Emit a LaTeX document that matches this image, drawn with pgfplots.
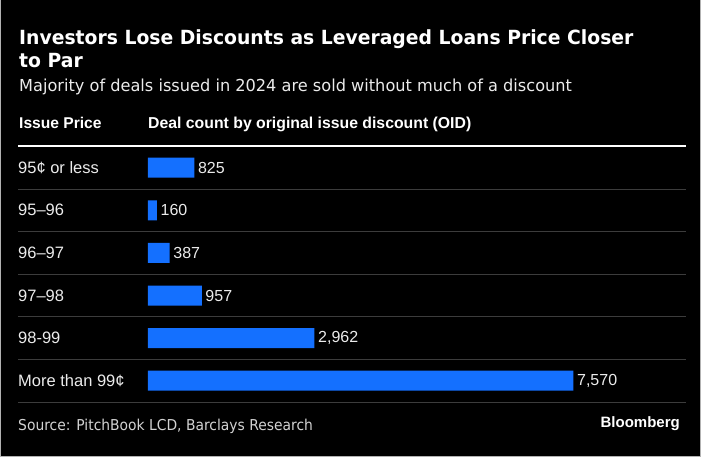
\documentclass[border=0pt]{standalone}
\usepackage{fontspec}
\usepackage{pgfplots}
\pgfplotsset{compat=1.18}
\setmainfont{Liberation Sans}
\newfontfamily\titlefont[FakeStretch=0.963]{DejaVu Sans}
\newfontfamily\subfont[FakeStretch=0.98]{DejaVu Sans}
\newfontfamily\srcfont[FakeStretch=0.925]{DejaVu Sans}
\definecolor{barblue}{RGB}{20,112,255}
\definecolor{sepgray}{RGB}{60,60,60}
\definecolor{srcgray}{RGB}{210,210,210}
\begin{document}
\begin{tikzpicture}
\useasboundingbox (0pt,0pt) rectangle (704pt,-460pt);
\fill[white] (0pt,0pt) rectangle (704pt,-460pt);
\fill[black] (0pt,0pt) rectangle (701pt,-457pt);
\draw[gray!60, line width=1pt] (0.5pt,0pt) -- (0.5pt,-456.5pt) -- (700.5pt,-456.5pt) -- (700.5pt,0pt);

\node[anchor=base west, inner sep=0pt, text=white, font=\titlefont\bfseries\fontsize{19.5}{23}\selectfont] at (19pt,-45pt) {Investors Lose Discounts as Leveraged Loans Price Closer};
\node[anchor=base west, inner sep=0pt, text=white, font=\titlefont\bfseries\fontsize{19.5}{23}\selectfont] at (19pt,-67.5pt) {to Par};
\node[anchor=base west, inner sep=0pt, text=white!92!black, font=\subfont\fontsize{16.5}{20}\selectfont] at (19pt,-91.7pt) {Majority of deals issued in 2024 are sold without much of a discount};

\node[anchor=base west, inner sep=0pt, text=white, font=\bfseries\fontsize{15.6}{18}\selectfont] at (19pt,-128.3pt) {Issue Price};
\node[anchor=base west, inner sep=0pt, text=white, font=\bfseries\fontsize{15.8}{18}\selectfont] at (148pt,-128.3pt) {Deal count by original issue discount (OID)};

\node[anchor=base west, inner sep=0pt, text=srcgray, font=\srcfont\fontsize{15}{18}\selectfont] at (18pt,-430pt) {Source: PitchBook LCD, Barclays Research};
\node[anchor=base east, inner sep=0pt, text=white, font=\bfseries\fontsize{15}{18}\selectfont] at (680pt,-427pt) {Bloomberg};

\begin{axis}[
  at={(18pt,-146.4pt)}, anchor=north west,
  scale only axis, width=668pt, height=255.6pt,
  xmin=-2313, xmax=9573, ymin=-0.5, ymax=5.5, y dir=reverse,
  clip=false,
  xbar, bar width=20pt,
  axis line style={draw=none},
  xtick=\empty,
  ytick={0,1,2,3,4,5},
  yticklabels={95¢ or less,95–96,96–97,97–98,98-99,More than 99¢},
  major tick length=0pt, minor tick length=0pt,
  yticklabel style={anchor=west, inner sep=0pt, text=white!92!black, font=\fontsize{16.5}{19}\selectfont},
  minor ytick={0.5,1.5,2.5,3.5,4.5,5.5},
  yminorgrids=true,
  minor grid style={draw=sepgray, line width=1pt},
  extra y ticks={-0.5},
  extra y tick labels={},
  extra y tick style={grid=major, major grid style={draw=white, line width=2pt}},
  /pgf/number format/assume math mode=true,
  /pgf/number format/.cd, fixed, precision=0, 1000 sep={,},
  /pgfplots/.cd,
  nodes near coords,
  nodes near coords style={anchor=west, inner sep=0pt, xshift=3.5pt, text=white!92!black, font=\fontsize{16}{19}\selectfont},
]
\addplot[fill=barblue, draw=none] coordinates {(825,0) (160,1) (387,2) (957,3) (2962,4) (7570,5)};
\end{axis}
\end{tikzpicture}
\end{document}
